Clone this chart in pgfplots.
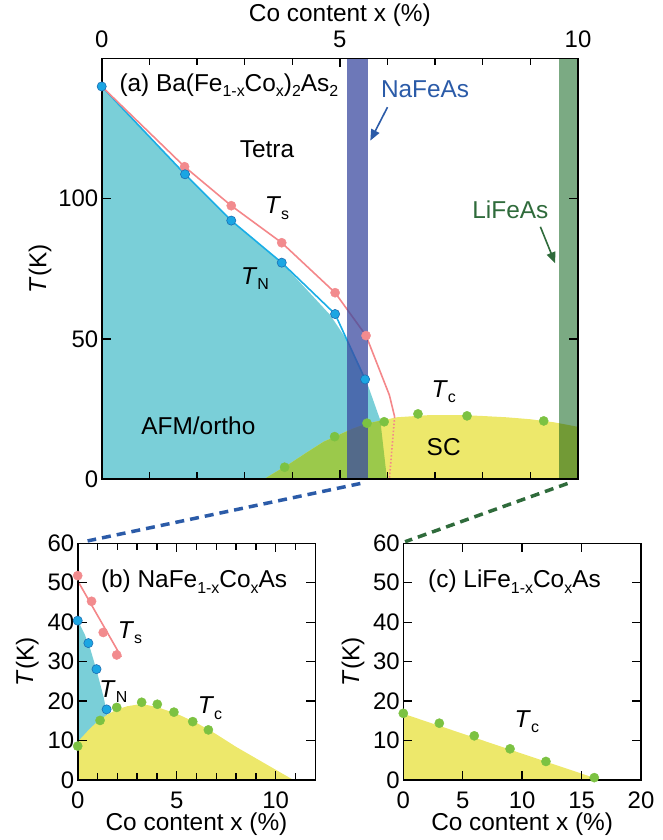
\documentclass[border=0pt]{standalone}
\usepackage{fontspec}
\setmainfont{Liberation Sans}
\usepackage{pgfplots}
\pgfplotsset{compat=1.18}
\usetikzlibrary{arrows.meta}
\definecolor{cyanfill}{HTML}{7ACFD8}
\definecolor{tnline}{HTML}{1AAEE6}
\definecolor{bluemk}{HTML}{1BA6E3}
\definecolor{bluemkd}{HTML}{1D6FB3}
\definecolor{redline}{HTML}{F4878A}
\definecolor{redmk}{HTML}{F28B8E}
\definecolor{greenmk}{HTML}{7CC242}
\definecolor{scyellow}{HTML}{EDE86B}
\definecolor{greenover}{HTML}{9BC94B}
\definecolor{nabar}{HTML}{3C4BA0}
\definecolor{libar}{HTML}{7BAA83}
\definecolor{natext}{HTML}{2B5BA8}
\definecolor{litext}{HTML}{2F6B3B}
\newcommand\fs{\fontsize{24.5}{29}\selectfont}
\newcommand\tfs{\fontsize{24}{28}\selectfont}
\newcommand\sbs[1]{\raisebox{-0.22em}{\fontsize{16}{16}\selectfont #1}}
\begin{document}
\begin{tikzpicture}[font=\fs]
\useasboundingbox (0,0) rectangle (663bp,840bp);
\pgfplotsset{
  myaxis/.style={scale only axis, anchor=south west, tick align=inside,
    axis line style={line width=1.6bp}, every tick/.style={black, line width=1.4bp},
    major tick length=9bp, minor tick length=7bp,
    tick label style={font=\tfs}, label style={font=\fs},
    /pgf/number format/assume math mode=true, clip=false, axis on top,
    xtick pos=both, ytick pos=both, yticklabel pos=left},
  bottomlabels/.style={xticklabel pos=lower,
    xticklabel style={anchor=center, yshift=-20bp},
    xlabel style={at={(axis description cs:0.5,0)}, anchor=center, yshift=-44bp}},
  redmarks/.style={only marks, mark=*, mark size=4.6bp, mark options={fill=redmk, draw=redmk}},
  bluemarks/.style={only marks, mark=*, mark size=4.6bp, mark options={fill=bluemk, draw=bluemkd, line width=0.6bp}},
  greenmarks/.style={only marks, mark=*, mark size=4.6bp, mark options={fill=greenmk, draw=greenmk}},
}
% ---------------- panel (a)
\begin{axis}[myaxis, name=A, at={(101.7bp,360.7bp)}, width=476.3bp, height=420.9bp,
  xmin=0, xmax=10, ymin=0, ymax=150,
  xtick={0,5,10}, minor xtick={1,2,3,4,6,7,8,9}, xticklabel pos=upper,
  ytick={0,50,100},
  xticklabel style={anchor=center, yshift=19bp},
  xlabel={Co content x (\%)}, ylabel={\textit{T}(K)},
  xlabel style={at={(axis description cs:0.5,1)}, anchor=center, yshift=43bp}]
\addplot[draw=none, fill=cyanfill] coordinates {(0,140)(1.75,108.7)(2.72,92.2)(3.78,77.2)(4.8,58.5)(5.15,49.6)(5.43,40)(5.6,33)(5.85,21)(5.99,0)} \closedcycle;
\addplot[draw=none, fill=scyellow] coordinates {(3.4,0)(3.96,5.7)(4.3,9.5)(4.66,13.4)(5.0,16)(5.29,18.2)(5.6,20)(5.92,21.1)(6.2,22.1)(6.9,22.9)(7.5,22.9)(7.95,22.6)(8.5,22.1)(9.0,21.4)(9.5,20.3)(10,18.7)} \closedcycle;
\addplot[draw=none, fill=greenover] coordinates {(3.4,0)(3.96,5.7)(4.3,9.5)(4.66,13.4)(5.0,16)(5.29,18.2)(5.6,20)(5.85,20.9)(5.99,0)} \closedcycle;
\addplot[tnline, line width=1.6bp] coordinates {(0,140)(1.75,108.7)(2.72,92.2)(3.78,77.2)(4.9,58.9)(5.53,35.6)};
\addplot[redline, line width=1.6bp] coordinates {(0,140)(1.74,111.4)(2.72,97.5)(3.78,84.3)(4.9,66.5)(5.55,51.2)(6.04,30)(6.15,22.3)};
\addplot[redline, line width=1.6bp, dash pattern=on 1.5bp off 2bp] coordinates {(6.15,22.3)(6.04,0)};
\addplot[redmarks] coordinates {(1.74,111.4)(2.72,97.5)(3.78,84.3)(4.9,66.5)(5.55,51.2)};
\addplot[bluemarks] coordinates {(0,140)(1.75,108.7)(2.72,92.2)(3.78,77.2)(4.9,58.9)(5.53,35.6)};
\addplot[greenmarks] coordinates {(3.84,4.3)(4.89,15.2)(5.57,20)(5.93,20.5)(6.64,23.3)(7.67,22.6)(9.28,20.8)};
\addplot[draw=none, fill=nabar, fill opacity=0.75] coordinates {(5.15,150)(5.59,150)} \closedcycle;
\addplot[draw=none, fill=libar, blend mode=multiply] coordinates {(9.61,150)(10,150)} \closedcycle;
\node[anchor=west] at (axis cs:0.3,140.5) {(a) Ba(Fe\sbs{1-x}Co\sbs{x})\sbs{2}As\sbs{2}};
\node at (axis cs:3.47,117.7) {Tetra};
\node at (axis cs:3.68,96.6) {\textit{T}\sbs{s}};
\node at (axis cs:3.22,71.6) {\textit{T}\sbs{N}};
\node at (axis cs:2.03,19) {AFM/ortho};
\node at (axis cs:7.18,31.2) {\textit{T}\sbs{c}};
\node at (axis cs:7.18,11.6) {SC};
\node[text=natext] at (axis cs:6.79,139) {NaFeAs};
\node[text=litext] at (axis cs:8.58,96.2) {LiFeAs};
\draw[natext, line width=1.6bp, -{Triangle[length=11bp,width=9bp]}] (axis cs:6.0,132.6) -- (axis cs:5.64,120.7);
\draw[litext, line width=1.6bp, -{Triangle[length=11bp,width=9bp]}] (axis cs:9.21,90) -- (axis cs:9.52,77);
\coordinate (As1) at (axis cs:5.43,-1.5);
\coordinate (As2) at (axis cs:9.78,-1.5);
\end{axis}
% ---------------- panel (b)
\begin{axis}[myaxis, bottomlabels, name=B, at={(77.7bp,60bp)}, width=237.6bp, height=236.7bp,
  xmin=0, xmax=12, ymin=0, ymax=60,
  xtick={0,5,10}, minor xtick={1,2,3,4,6,7,8,9,11}, ytick={0,10,...,60},
  xlabel={Co content x (\%)}, ylabel={\textit{T}(K)}, ylabel style={yshift=2bp}]
\addplot[draw=none, fill=cyanfill] coordinates {(0,40.5)(0.35,37)(0.65,33)(0.97,27.5)(1.31,21)(1.6,14)(1.75,0)} \closedcycle;
\addplot[draw=none, fill=scyellow] coordinates {(0,9.7)(0.3,11.3)(0.63,13.1)(1.0,14.8)(1.5,16.6)(2,17.9)(2.5,18.7)(3,19.1)(3.5,19.0)(4,18.5)(5,16.8)(6,14.5)(7,11.6)(8,8.4)(9,5.5)(10,2.6)(10.9,0)} \closedcycle;
\addplot[redline, line width=1.6bp] coordinates {(0,50.5)(2.2,31.2)};
\addplot[redmarks] coordinates {(0,51.8)(0.7,45.3)(1.29,37.4)(1.97,31.7)};
\addplot[bluemarks] coordinates {(0,40.4)(0.54,34.7)(0.95,28.1)(1.46,17.9)};
\addplot[greenmarks] coordinates {(0,8.6)(1.13,15.1)(1.97,18.4)(3.23,19.7)(4.02,19.2)(4.86,17.2)(5.81,14.8)(6.6,12.7)};
\node[anchor=west] at (axis cs:1.0,50.3) {(b) NaFe\sbs{1-x}Co\sbs{x}As};
\node at (axis cs:2.64,37.3) {\textit{T}\sbs{s}};
\node at (axis cs:1.8,22.4) {\textit{T}\sbs{N}};
\node at (axis cs:6.68,18.2) {\textit{T}\sbs{c}};
\coordinate (Be) at (axis cs:0.5,60.6);
\end{axis}
% ---------------- panel (c)
\begin{axis}[myaxis, bottomlabels, name=C, at={(403.3bp,60bp)}, width=237.7bp, height=236.7bp,
  xmin=0, xmax=20, ymin=0, ymax=60,
  xtick={0,5,...,20}, ytick={0,10,...,60},
  xlabel={Co content x (\%)}, ylabel={\textit{T}(K)}, ylabel style={yshift=2bp}]
\addplot[draw=none, fill=scyellow] coordinates {(0,16.8)(16.6,0)} \closedcycle;
\addplot[greenmarks] coordinates {(0,16.9)(3.03,14.4)(5.97,11.2)(8.98,7.9)(12,4.7)(16.07,0.6)};
\node[anchor=west] at (axis cs:1.8,50.3) {(c) LiFe\sbs{1-x}Co\sbs{x}As};
\node at (axis cs:10.4,14.8) {\textit{T}\sbs{c}};
\coordinate (Ce) at (axis cs:0.15,60.4);
\end{axis}
\draw[natext, line width=3.5bp, dash pattern=on 9bp off 6bp] (As1) -- (Be);
\draw[litext, line width=3.5bp, dash pattern=on 9bp off 6bp] (As2) -- (Ce);
\end{tikzpicture}
\end{document}
